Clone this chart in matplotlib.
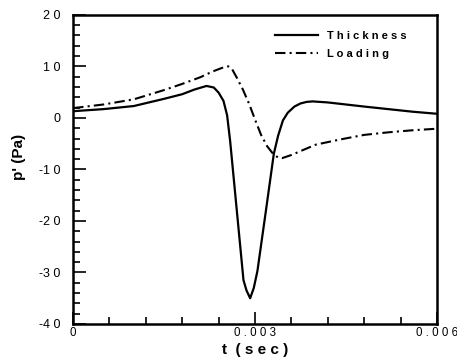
import matplotlib
matplotlib.use("Agg")
import matplotlib.pyplot as plt
from matplotlib.ticker import MultipleLocator, FuncFormatter

# values
t_thick = [0.0, 0.0005, 0.001, 0.0015, 0.0018, 0.002, 0.0022, 0.00232, 0.0024,
           0.00248, 0.00254, 0.00259, 0.0027, 0.00281, 0.00286, 0.00292, 0.00298,
           0.00304, 0.00318, 0.00331, 0.00338, 0.00346, 0.00354, 0.00365, 0.00375,
           0.00385, 0.00395, 0.0042, 0.0045, 0.0048, 0.0052, 0.0056, 0.006]
p_thick = [1.3, 1.7, 2.3, 3.7, 4.6, 5.5, 6.2, 5.9, 4.9,
           3.3, 0.5, -4.5, -18.0, -31.5, -33.5, -35.0, -33.0,
           -29.7, -18.0, -7.0, -3.5, -0.5, 1.0, 2.2, 2.8,
           3.1, 3.2, 3.0, 2.6, 2.2, 1.7, 1.2, 0.8]

t_load = [0.0, 0.0005, 0.001, 0.0015, 0.0018, 0.0021, 0.0023, 0.0025, 0.00256,
          0.00262, 0.0027, 0.0028, 0.0029, 0.003, 0.0031, 0.0032, 0.0033, 0.00338,
          0.00345, 0.0036, 0.0038, 0.004, 0.0044, 0.0048, 0.0052, 0.0056, 0.006]
p_load = [1.9, 2.6, 3.6, 5.4, 6.6, 7.9, 9.0, 9.9, 10.0,
          9.5, 7.8, 5.5, 2.8, -0.3, -3.3, -5.5, -7.0, -7.7,
          -7.8, -7.2, -6.2, -5.2, -4.2, -3.3, -2.8, -2.4, -2.1]

x_ticks = [0, 0.003, 0.006]
x_ticklabels = ["0", "0.003", "0.006"]


def spaced(s):
    return " ".join(s)


plt.rcParams["font.family"] = ["Liberation Sans", "DejaVu Sans"]

fig = plt.figure(figsize=(4.57, 3.62), dpi=100)
ax = fig.add_axes([0.16, 0.105, 0.796, 0.854])

ax.plot(t_thick, p_thick, color="black", lw=1.6, label=spaced("Thickness"))
ax.plot(t_load, p_load, color="black", lw=1.5, linestyle=(0, (5, 2, 1, 2)),
        label=spaced("Loading"))

ax.set_xlim(0, 0.006)
ax.set_ylim(-40, 20)
ax.set_xticks(x_ticks)
ax.set_xticklabels([spaced(s) for s in x_ticklabels])
ax.xaxis.set_minor_locator(MultipleLocator(0.0006))
ax.yaxis.set_major_locator(MultipleLocator(10))
ax.yaxis.set_minor_locator(MultipleLocator(2))
ax.yaxis.set_major_formatter(FuncFormatter(lambda v, pos: spaced("%d" % v).replace("- ", "-")))

for s in ax.spines.values():
    s.set_linewidth(1.8)
ax.tick_params(which="both", direction="in", width=1.2)
ax.tick_params(which="major", length=9)
ax.tick_params(which="minor", length=5)
ax.tick_params(axis="y", pad=9, labelsize=9)
ax.tick_params(axis="x", pad=2, labelsize=8.3)

ax.set_xlabel("t  ( s e c )", fontsize=11, fontweight="bold")
ax.set_ylabel("p' (Pa)", fontsize=11, fontweight="bold")
ax.yaxis.set_label_coords(-0.13, 0.54)
ax.xaxis.set_label_coords(0.5, -0.06)

leg = ax.legend(loc="upper left", bbox_to_anchor=(0.555, 0.948), frameon=False,
                handlelength=3.9, handletextpad=0.8, borderpad=0, borderaxespad=0,
                labelspacing=0.7, prop={"size": 8, "weight": "bold"})

fig.savefig("out.png", dpi=100)
